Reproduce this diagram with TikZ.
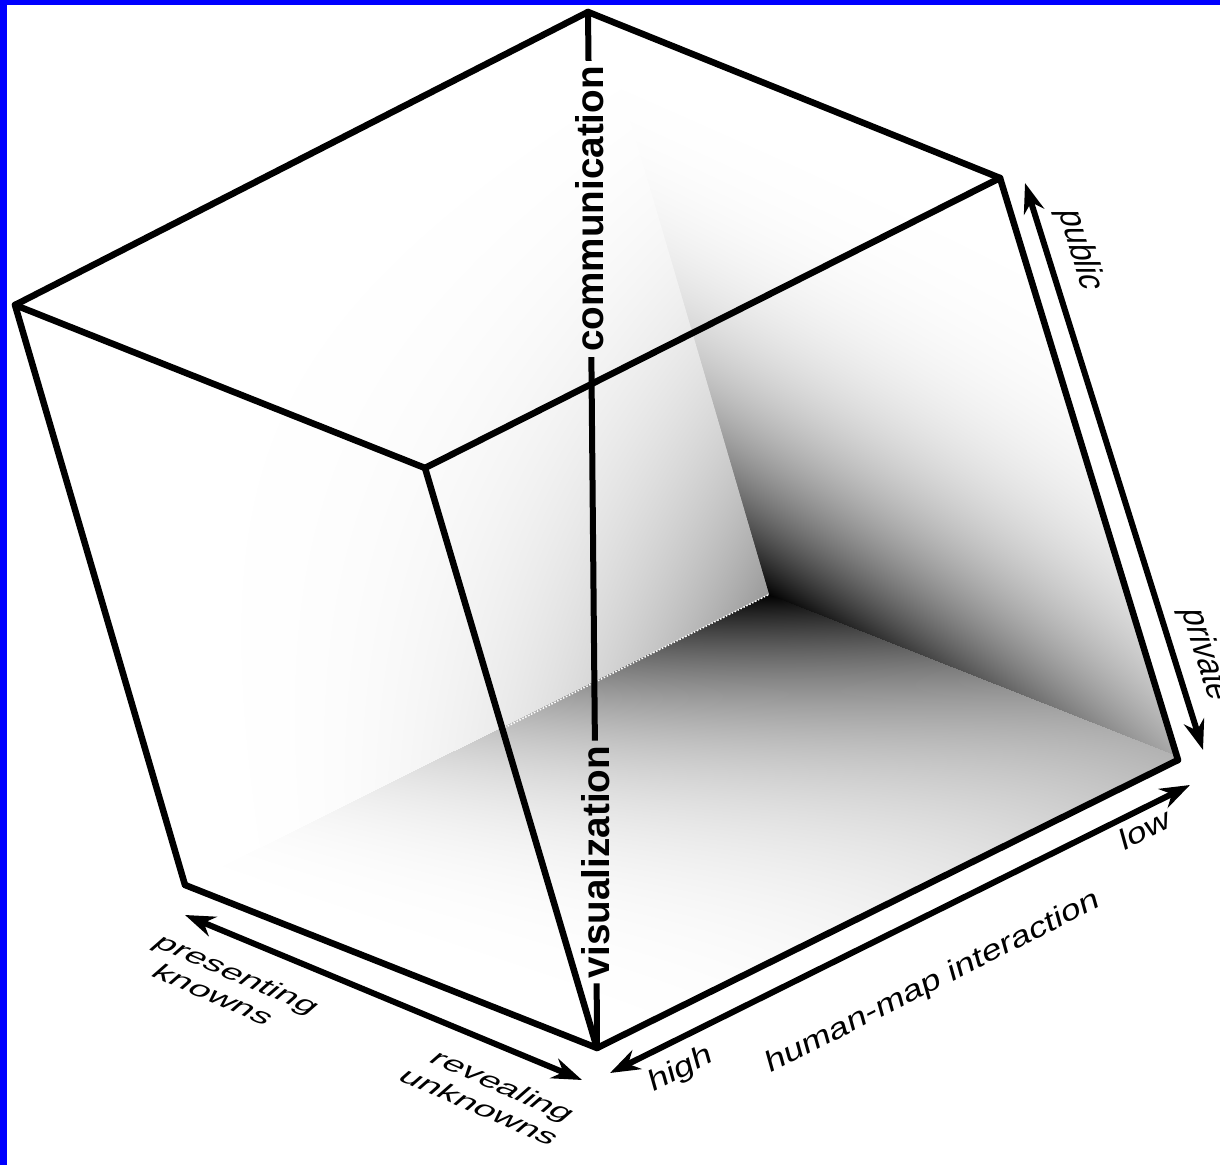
\documentclass[tikz,border=0pt]{standalone}
\usepackage{fontspec}
\setsansfont{Liberation Sans}
\usepackage{tikz}
\usetikzlibrary{
  arrows.meta
}
\definecolor{FrameBlue}{HTML}{0000FF}

% shadings of the three inner faces, on a 100bp square
\pgfdeclarefunctionalshading{rightface}{\pgfpointorigin}{\pgfpoint{100bp}{100bp}}{}{
  100 div 1 exch sub 0.65 mul 0.35 add exch 100 div 3 exp mul 1 exch sub dup dup}
\pgfdeclarefunctionalshading{leftface}{\pgfpointorigin}{\pgfpoint{100bp}{100bp}}{}{
  100 div 2.6 exp exch 100 div 2.6 exp mul 0.4 mul 1 exch sub dup dup}
\pgfdeclarefunctionalshading{floorface}{\pgfpointorigin}{\pgfpoint{100bp}{100bp}}{}{
  100 div 1 exch sub dup mul 0.7 mul 0.3 add exch 100 div 2.3 exp mul 1 exch sub dup dup}

\begin{document}
\begin{tikzpicture}[
  edge/.style     = {line width=0.13cm, line cap=round, black},
  axisline/.style = {line width=0.12cm, black},
  rangearrow/.style = {line width=0.12cm, black, {Stealth[length=0.6cm,width=0.42cm]}-{Stealth[length=0.6cm,width=0.42cm]}},
  axislabel/.style = {font=\fontsize{22}{24}\selectfont\sffamily\bfseries, rotate=90, inner sep=0.1cm},
  facelabel/.style = {font=\sffamily, align=center, inner sep=0pt, transform shape}
]
  \useasboundingbox (0,0) rectangle (24.4,23.3);

  % Inner faces
  \begin{pgfscope}
    \pgftransformcm{1.0243}{-3.3176}{2.3331}{-0.9389}{\pgfpoint{17.66cm}{15.58cm}}
    \pgflowlevelsynccm
    \pgfuseshading{rightface}
  \end{pgfscope}
  \begin{pgfscope}
    \pgftransformcm{0.9674}{-3.3005}{3.3176}{1.6503}{\pgfpoint{7.83cm}{14.30cm}}
    \pgflowlevelsynccm
    \pgfuseshading{leftface}
  \end{pgfscope}
  \begin{pgfscope}
    \pgftransformcm{3.3176}{1.6503}{2.3445}{-0.9276}{\pgfpoint{13.65cm}{6.87cm}}
    \pgflowlevelsynccm
    \pgfuseshading{floorface}
  \end{pgfscope}

  % Frame
  \fill[FrameBlue] (0,23.2) rectangle (24.4,23.3);
  \fill[FrameBlue] (0,0) rectangle (0.14,23.3);

  % Cube corners
  \coordinate (lefttop)   at (0.30,17.20);
  \coordinate (backtop)   at (11.76,23.06);
  \coordinate (righttop)  at (20.00,19.74);
  \coordinate (fronttop)  at (8.50,13.94);
  \coordinate (leftlow)   at (3.70,5.60);
  \coordinate (frontlow)  at (11.94,2.34);
  \coordinate (rightlow)  at (23.56,8.10);
  \coordinate (backlow)   at (15.36,11.40);
  \coordinate (creaseend) at (10.00,8.70);

  % Seam on the floor
  \draw[white, line width=0.03cm, densely dotted] (backlow) -- (creaseend);

  % Cube edges
  \draw[edge] (lefttop) -- (backtop);
  \draw[edge] (backtop) -- (righttop);
  \draw[edge] (righttop) -- (fronttop);
  \draw[edge] (fronttop) -- (lefttop);
  \draw[edge] (lefttop) -- (leftlow);
  \draw[edge] (leftlow) -- (frontlow);
  \draw[edge] (frontlow) -- (rightlow);
  \draw[edge] (rightlow) -- (righttop);
  \draw[edge] (fronttop) -- (frontlow);

  % Vertical axis
  \node[axislabel] (communication) at (11.80,19.12) {communication};
  \node[axislabel] (visualization) at (11.92,6.06) {visualization};
  \draw[axisline] (backtop) -- (communication);
  \draw[axisline] (communication) -- (visualization);
  \draw[axisline] (visualization) -- (frontlow);

  % Range arrows
  \coordinate (knownsend)  at (3.70,5.00);
  \coordinate (unknownsend) at (11.64,1.70);
  \coordinate (highend)    at (12.20,1.84);
  \coordinate (lowend)     at (23.80,7.60);
  \coordinate (publicend)  at (20.50,19.64);
  \coordinate (privateend) at (24.06,8.30);
  \draw[rangearrow] (knownsend) -- (unknownsend);
  \draw[rangearrow] (highend) -- (lowend);
  \draw[rangearrow] (publicend) -- (privateend);

  % Labels on the faces
  \node[facelabel, cm={1.93,-0.84,1.12,0.98,(4.52,3.62)}] (presenting) at (0,0) {presenting\\knowns};
  \node[facelabel, cm={1.93,-0.84,1.12,0.98,(9.84,1.38)}] (revealing) at (0,0) {revealing\\unknowns};
  \node[facelabel, cm={1.84,0.93,-0.45,1.6,(13.62,1.90)}] (high) at (0,0) {high};
  \node[facelabel, cm={1.84,0.93,-0.45,1.6,(18.66,3.64)}] (interaction) at (0,0) {human-map interaction};
  \node[facelabel, cm={1.84,0.93,-0.45,1.6,(22.90,6.72)}] (low) at (0,0) {low};
  \node[facelabel, cm={0.52,-1.72,2.1,0,(21.60,18.30)}] (public) at (0,0) {public};
  \node[facelabel, cm={0.52,-1.72,2.1,0,(24.10,10.20)}] (private) at (0,0) {private};
\end{tikzpicture}
\end{document}
